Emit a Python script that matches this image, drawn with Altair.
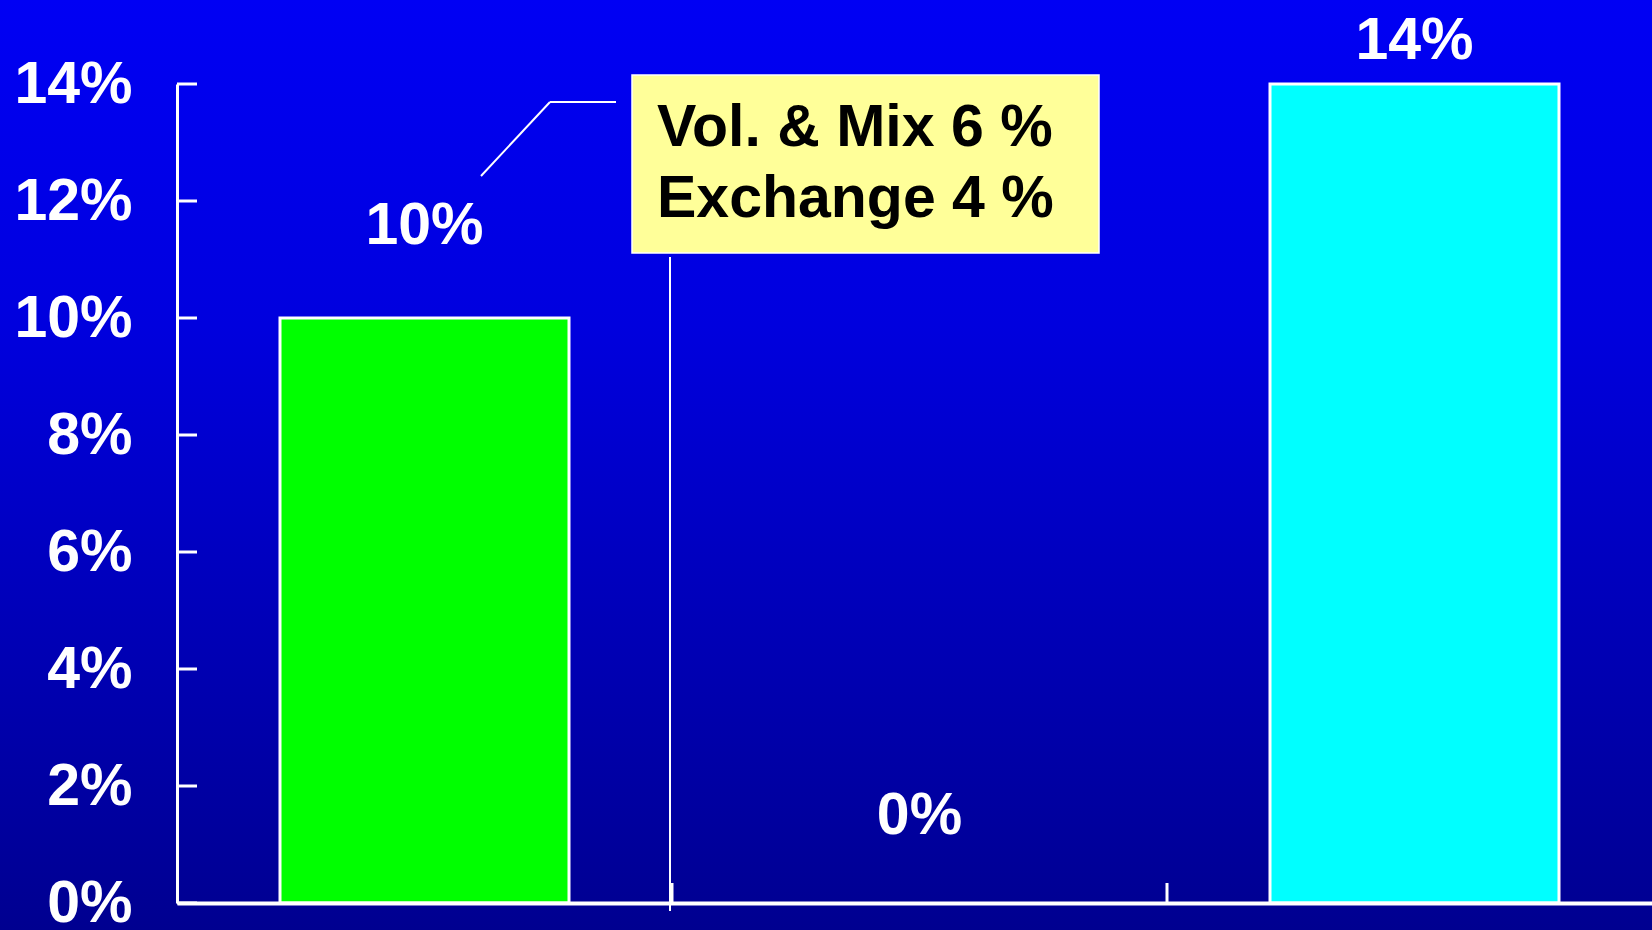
import altair as alt
import pandas as pd

# ---- data ----
categories = ["Prior Year", "Change", "Current Year"]
values = [10, 0, 14]
value_labels = ["10%", "0%", "14%"]
bar_colors = ["#00FF00", "#FFFFFF", "#00FFFF"]
y_ticks = [0, 2, 4, 6, 8, 10, 12, 14]
note_lines = ["Vol. & Mix 6 %", "Exchange 4 %"]

df = pd.DataFrame({"category": categories, "value": values, "label": value_labels})
ticks_df = pd.DataFrame({"value": y_ticks})
one = pd.DataFrame({"k": [0]})

W, H = 1475, 819
FONT = "Liberation Sans"
FS = 59

xscale = alt.Scale(domain=categories, range=[0, 1485], paddingInner=0, paddingOuter=0)
yscale = alt.Scale(domain=[0, 14], nice=False)
xaxis = alt.Axis(labels=False, ticks=False, title=None, domainColor="white",
                 domainWidth=4, zindex=1, grid=False)
yaxis = alt.Axis(values=y_ticks, labelExpr="datum.value + '%'", labelFont=FONT,
                 labelFontSize=FS, labelFontWeight="bold", labelColor="white",
                 labelPadding=45, ticks=False, grid=False, domainColor="white",
                 domainWidth=3, title=None, zindex=1, labelOverlap=False)

background = alt.Chart(one).mark_rect(
    color=alt.Gradient(
        gradient="linear",
        stops=[
            alt.GradientStop(color="#0000F4", offset=0),
            alt.GradientStop(color="#0000DE", offset=0.35),
            alt.GradientStop(color="#000090", offset=1),
        ],
        x1=0, x2=0, y1=0, y2=1,
    )
).encode(x=alt.value(-177), x2=alt.value(W), y=alt.value(-84), y2=alt.value(H + 27))

bars = alt.Chart(df).mark_bar(size=289, stroke="white", strokeWidth=3).encode(
    x=alt.X("category:N", scale=xscale, sort=categories, axis=xaxis),
    y=alt.Y("value:Q", scale=yscale, axis=yaxis),
    color=alt.Color("category:N", scale=alt.Scale(domain=categories, range=bar_colors), legend=None),
).transform_filter("datum.value > 0")

ytick_rules = alt.Chart(ticks_df).mark_rule(color="white", strokeWidth=3).encode(
    y=alt.Y("value:Q", scale=yscale, axis=yaxis), x=alt.value(0), x2=alt.value(20)
)

xtick_rules = alt.Chart(df).mark_rule(color="white", strokeWidth=3).encode(
    x=alt.X("category:N", scale=xscale, bandPosition=0, axis=xaxis),
    y=alt.value(H - 20), y2=alt.value(H),
).transform_filter(alt.datum.category != categories[0])

label_dy = {"Prior Year": -74, "Change": -69, "Current Year": -25}
labels = []
for cat in categories:
    labels.append(
        alt.Chart(df).mark_text(dy=label_dy[cat], baseline="alphabetic", align="center",
                                fontSize=FS, fontWeight="bold", font=FONT, color="white").encode(
            x=alt.X("category:N", scale=xscale, axis=xaxis),
            y=alt.Y("value:Q", scale=yscale, axis=yaxis),
            text="label:N",
        ).transform_filter(alt.datum.category == cat)
    )

note_box = alt.Chart(one).mark_rect(fill="#FFFF99", stroke="#FFFFFF", strokeWidth=1.5).encode(
    x=alt.value(455), x2=alt.value(922), y=alt.value(-9), y2=alt.value(169)
)
note_text = [
    alt.Chart(one).mark_text(align="left", baseline="alphabetic", fontSize=FS, fontWeight="bold",
                             font=FONT, color="black", text=line).encode(
        x=alt.value(480), y=alt.value(yy))
    for line, yy in zip(note_lines, [62, 133])
]
leaders = [
    alt.Chart(one).mark_rule(color="white", strokeWidth=2).encode(
        x=alt.value(373), x2=alt.value(439), y=alt.value(18), y2=alt.value(18)),
    alt.Chart(one).mark_rule(color="white", strokeWidth=2).encode(
        x=alt.value(373), x2=alt.value(304), y=alt.value(18), y2=alt.value(92)),
    alt.Chart(one).mark_rule(color="white", strokeWidth=2).encode(
        x=alt.value(493), x2=alt.value(493), y=alt.value(173), y2=alt.value(827)),
]

chart = alt.layer(
    background, bars, ytick_rules, xtick_rules, *labels, *leaders, note_box, *note_text
).properties(
    width=W, height=H,
    padding={"left": 177, "top": 84, "right": 0, "bottom": 27},
    autosize=alt.AutoSizeParams(type="none"),
    background="#000090",
).configure_view(stroke=None)

chart.save("out.html", embed_options={"renderer": "svg", "actions": False})
